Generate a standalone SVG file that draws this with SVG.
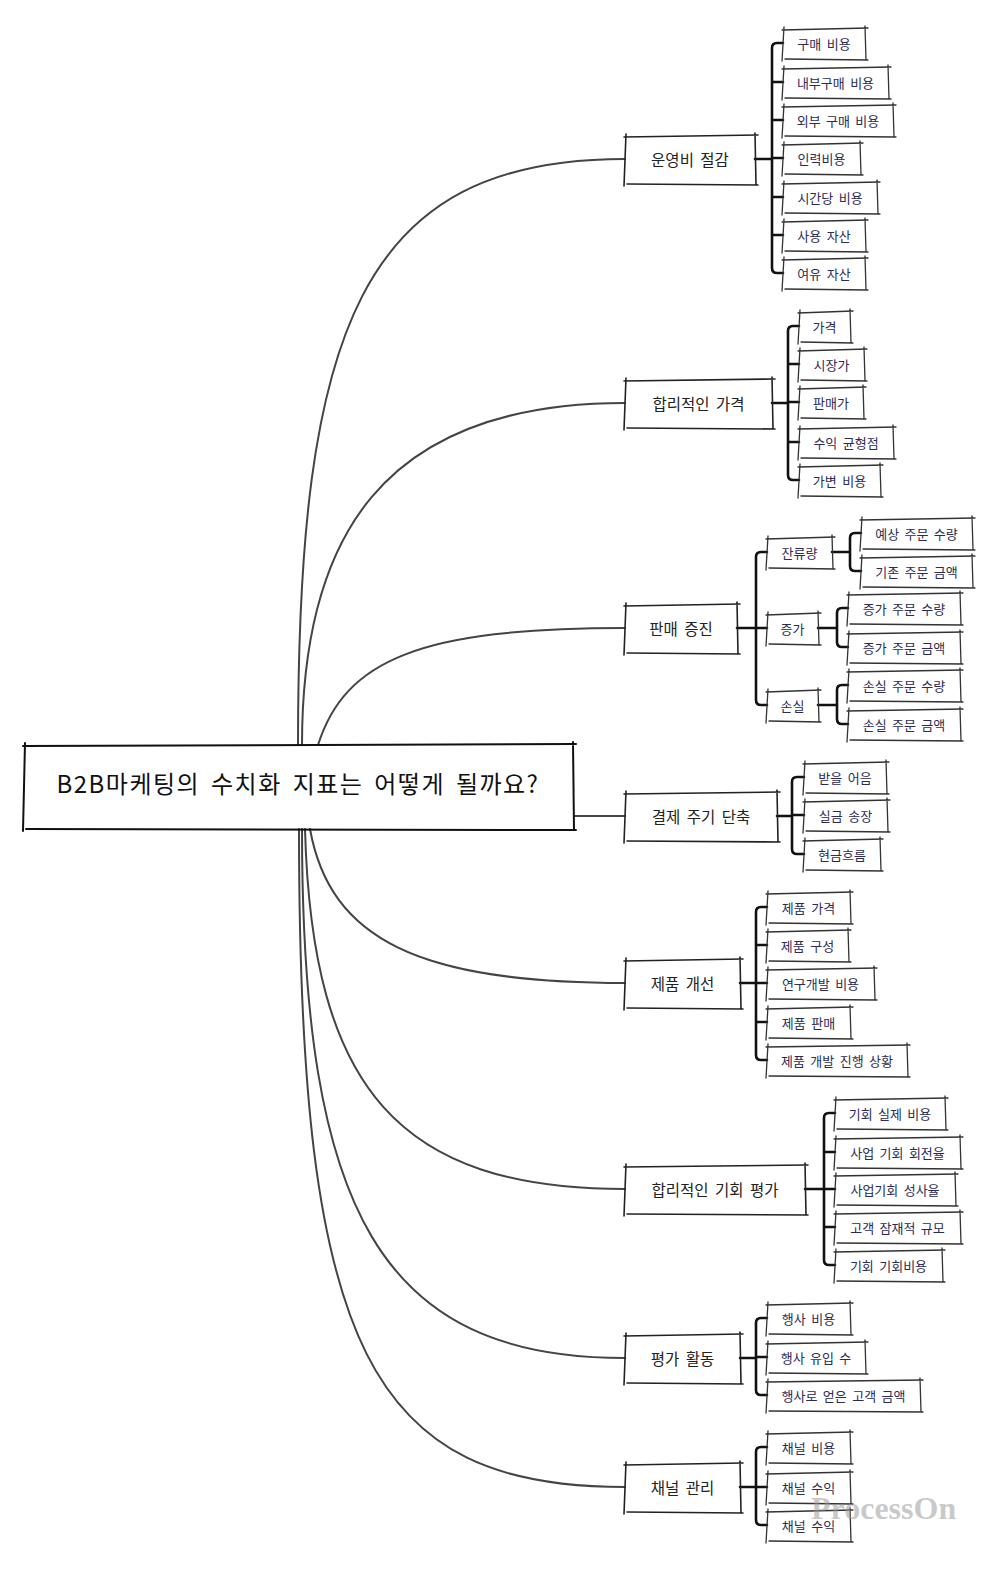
<svg xmlns="http://www.w3.org/2000/svg" width="1000" height="1569" viewBox="0 0 1000 1569">
<style>
.root{fill:none;stroke:#111;stroke-width:2;stroke-linecap:round}
.b1{fill:none;stroke:#222;stroke-width:1.6;stroke-linecap:round}
.b2{fill:none;stroke:#333;stroke-width:1.3;stroke-linecap:round}
.br{fill:none;stroke:#111;stroke-width:2.6;stroke-linecap:round;stroke-linejoin:round}
.cv{fill:none;stroke:#444;stroke-width:2;stroke-linecap:round}
text{font-family:"Noto Sans CJK KR","Noto Sans",sans-serif;text-anchor:middle;dominant-baseline:central}
.t0{font-size:24px;fill:#111;letter-spacing:1.5px;word-spacing:4px}
.t1{font-size:15.5px;fill:#222;word-spacing:3px}
.t2{font-size:13px;fill:#2b2b55;word-spacing:2.5px}
.wm{font-family:"Liberation Serif",serif;font-weight:bold;font-size:32px;fill:#9a9a9a;fill-opacity:0.55;text-anchor:start;dominant-baseline:auto}
</style>
<rect width="1000" height="1569" fill="#fff"/>
<g id="connectors">
<path class="cv" d="M298 745 C298 330 360 159 625 159"/>
<path class="cv" d="M302 745 C302 540 380 403 625 403"/>
<path class="cv" d="M318 745 C345 660 420 628 625 628"/>
<path class="cv" d="M575 816 H625"/>
<path class="cv" d="M310 829 C330 940 420 983 625 983"/>
<path class="cv" d="M305 829 C312 1090 400 1189 625 1189"/>
<path class="cv" d="M302 829 C302 1210 380 1358 625 1358"/>
<path class="cv" d="M299 829 C299 1350 370 1487 625 1487"/>
<path class="br" d="M755 159 H772 M783 43 H777 Q772 43 772 48 V268 Q772 273 777 273 H783 M772 82 H783 M772 120 H783 M772 158 H783 M772 197 H783 M772 235 H783"/>
<path class="br" d="M772 403 H788 M799 326 H793 Q788 326 788 331 V475 Q788 480 793 480 H799 M788 364 H799 M788 402 H799 M788 442 H799"/>
<path class="br" d="M737 628 H756 M767 552 H761 Q756 552 756 557 V700 Q756 705 761 705 H767 M756 628 H767"/>
<path class="br" d="M832 552 H850 M861 533 H855 Q850 533 850 538 V566 Q850 571 855 571 H861"/>
<path class="br" d="M818 628 H837 M848 608 H842 Q837 608 837 613 V642 Q837 647 842 647 H848"/>
<path class="br" d="M818 705 H837 M848 685 H842 Q837 685 837 690 V719 Q837 724 842 724 H848"/>
<path class="br" d="M777 816 H792 M804 777 H797 Q792 777 792 782 V849 Q792 854 797 854 H804 M792 815 H804"/>
<path class="br" d="M740 983 H756 M767 907 H761 Q756 907 756 912 V1055 Q756 1060 761 1060 H767 M756 945 H767 M756 983 H767 M756 1022 H767"/>
<path class="br" d="M805 1189 H824 M835 1113 H829 Q824 1113 824 1118 V1260 Q824 1265 829 1265 H835 M824 1152 H835 M824 1189 H835 M824 1227 H835"/>
<path class="br" d="M740 1358 H756 M767 1318 H761 Q756 1318 756 1323 V1390 Q756 1395 761 1395 H767 M756 1357 H767"/>
<path class="br" d="M740 1487 H756 M767 1447 H761 Q756 1447 756 1452 V1520 Q756 1525 761 1525 H767 M756 1487 H767"/>
</g>
<g id="root"><path class="root" d="M23 746L576 744M25 743L23 831M573 742L574 830M26 829L576 830"/><text class="t0" x="298" y="782">B2B마케팅의 수치화 지표는 어떻게 될까요?</text></g>

<g id="n1"><path class="b1" d="M624 137L758 135M626 134L624 186M755 133L756 185M627 184L758 185"/><text class="t1" x="690" y="159">운영비 절감</text></g>
<g id="n1-1"><path class="b2" d="M782 30L868 28M784 27L782 61M865 26L866 60M785 59L868 60"/><text class="t2" x="824" y="43">구매 비용</text></g>
<g id="n1-2"><path class="b2" d="M782 69L891 67M784 66L782 100M888 65L889 99M785 98L891 99"/><text class="t2" x="835.5" y="82">내부구매 비용</text></g>
<g id="n1-3"><path class="b2" d="M782 107L896 105M784 104L782 138M893 103L894 137M785 136L896 137"/><text class="t2" x="838" y="120">외부 구매 비용</text></g>
<g id="n1-4"><path class="b2" d="M782 145L863 143M784 142L782 176M860 141L861 175M785 174L863 175"/><text class="t2" x="821.5" y="158">인력비용</text></g>
<g id="n1-5"><path class="b2" d="M782 184L880 182M784 181L782 215M877 180L878 214M785 213L880 214"/><text class="t2" x="830" y="197">시간당 비용</text></g>
<g id="n1-6"><path class="b2" d="M782 222L868 220M784 219L782 253M865 218L866 252M785 251L868 252"/><text class="t2" x="824" y="235">사용 자산</text></g>
<g id="n1-7"><path class="b2" d="M782 260L868 258M784 257L782 291M865 256L866 290M785 289L868 290"/><text class="t2" x="824" y="273">여유 자산</text></g>

<g id="n2"><path class="b1" d="M624 381L775 379M626 378L624 430M772 377L773 429M627 428L775 429"/><text class="t1" x="698.5" y="403">합리적인 가격</text></g>
<g id="n2-1"><path class="b2" d="M798 313L853 311M800 310L798 344M850 309L851 343M801 342L853 343"/><text class="t2" x="824.5" y="326">가격</text></g>
<g id="n2-2"><path class="b2" d="M798 351L867 349M800 348L798 382M864 347L865 381M801 380L867 381"/><text class="t2" x="831.5" y="364">시장가</text></g>
<g id="n2-3"><path class="b2" d="M798 389L866 387M800 386L798 420M863 385L864 419M801 418L866 419"/><text class="t2" x="831" y="402">판매가</text></g>
<g id="n2-4"><path class="b2" d="M798 429L896 427M800 426L798 460M893 425L894 459M801 458L896 459"/><text class="t2" x="846" y="442">수익 균형점</text></g>
<g id="n2-5"><path class="b2" d="M798 467L883 465M800 464L798 498M880 463L881 497M801 496L883 497"/><text class="t2" x="839.5" y="480">가변 비용</text></g>

<g id="n3"><path class="b1" d="M624 606L740 604M626 603L624 655M737 602L738 654M627 653L740 654"/><text class="t1" x="681" y="628">판매 증진</text></g>
<g id="n3-1"><path class="b2" d="M766 539L835 537M768 536L766 570M832 535L833 569M769 568L835 569"/><text class="t2" x="799.5" y="552">잔류량</text></g>
<g id="n3-2"><path class="b2" d="M766 615L821 613M768 612L766 646M818 611L819 645M769 644L821 645"/><text class="t2" x="792.5" y="628">증가</text></g>
<g id="n3-3"><path class="b2" d="M766 692L821 690M768 689L766 723M818 688L819 722M769 721L821 722"/><text class="t2" x="792.5" y="705">손실</text></g>
<g id="n3-1-1"><path class="b2" d="M860 520L975 518M862 517L860 551M972 516L973 550M863 549L975 550"/><text class="t2" x="916.5" y="533">예상 주문 수량</text></g>
<g id="n3-1-2"><path class="b2" d="M860 558L975 556M862 555L860 589M972 554L973 588M863 587L975 588"/><text class="t2" x="916.5" y="571">기존 주문 금액</text></g>
<g id="n3-2-1"><path class="b2" d="M847 595L963 593M849 592L847 626M960 591L961 625M850 624L963 625"/><text class="t2" x="904" y="608">증가 주문 수량</text></g>
<g id="n3-2-2"><path class="b2" d="M847 634L963 632M849 631L847 665M960 630L961 664M850 663L963 664"/><text class="t2" x="904" y="647">증가 주문 금액</text></g>
<g id="n3-3-1"><path class="b2" d="M847 672L963 670M849 669L847 703M960 668L961 702M850 701L963 702"/><text class="t2" x="904" y="685">손실 주문 수량</text></g>
<g id="n3-3-2"><path class="b2" d="M847 711L963 709M849 708L847 742M960 707L961 741M850 740L963 741"/><text class="t2" x="904" y="724">손실 주문 금액</text></g>

<g id="n4"><path class="b1" d="M624 794L780 792M626 791L624 843M777 790L778 842M627 841L780 842"/><text class="t1" x="701" y="816">결제 주기 단축</text></g>
<g id="n4-1"><path class="b2" d="M803 764L889 762M805 761L803 795M886 760L887 794M806 793L889 794"/><text class="t2" x="845" y="777">받을 어음</text></g>
<g id="n4-2"><path class="b2" d="M803 802L890 800M805 799L803 833M887 798L888 832M806 831L890 832"/><text class="t2" x="845.5" y="815">실금 송장</text></g>
<g id="n4-3"><path class="b2" d="M803 841L883 839M805 838L803 872M880 837L881 871M806 870L883 871"/><text class="t2" x="842" y="854">현금흐름</text></g>

<g id="n5"><path class="b1" d="M624 961L743 959M626 958L624 1010M740 957L741 1009M627 1008L743 1009"/><text class="t1" x="682.5" y="983">제품 개선</text></g>
<g id="n5-1"><path class="b2" d="M766 894L853 892M768 891L766 925M850 890L851 924M769 923L853 924"/><text class="t2" x="808.5" y="907">제품 가격</text></g>
<g id="n5-2"><path class="b2" d="M766 932L851 930M768 929L766 963M848 928L849 962M769 961L851 962"/><text class="t2" x="807.5" y="945">제품 구성</text></g>
<g id="n5-3"><path class="b2" d="M766 970L877 968M768 967L766 1001M874 966L875 1000M769 999L877 1000"/><text class="t2" x="820.5" y="983">연구개발 비용</text></g>
<g id="n5-4"><path class="b2" d="M766 1009L853 1007M768 1006L766 1040M850 1005L851 1039M769 1038L853 1039"/><text class="t2" x="808.5" y="1022">제품 판매</text></g>
<g id="n5-5"><path class="b2" d="M766 1047L910 1045M768 1044L766 1078M907 1043L908 1077M769 1076L910 1077"/><text class="t2" x="837" y="1060">제품 개발 진행 상황</text></g>

<g id="n6"><path class="b1" d="M624 1167L808 1165M626 1164L624 1216M805 1163L806 1215M627 1214L808 1215"/><text class="t1" x="715" y="1189">합리적인 기회 평가</text></g>
<g id="n6-1"><path class="b2" d="M834 1100L948 1098M836 1097L834 1131M945 1096L946 1130M837 1129L948 1130"/><text class="t2" x="890" y="1113">기회 실제 비용</text></g>
<g id="n6-2"><path class="b2" d="M834 1139L963 1137M836 1136L834 1170M960 1135L961 1169M837 1168L963 1169"/><text class="t2" x="897.5" y="1152">사업 기회 회전율</text></g>
<g id="n6-3"><path class="b2" d="M834 1176L958 1174M836 1173L834 1207M955 1172L956 1206M837 1205L958 1206"/><text class="t2" x="895" y="1189">사업기회 성사율</text></g>
<g id="n6-4"><path class="b2" d="M834 1214L963 1212M836 1211L834 1245M960 1210L961 1244M837 1243L963 1244"/><text class="t2" x="897.5" y="1227">고객 잠재적 규모</text></g>
<g id="n6-5"><path class="b2" d="M834 1252L945 1250M836 1249L834 1283M942 1248L943 1282M837 1281L945 1282"/><text class="t2" x="888.5" y="1265">기회 기회비용</text></g>

<g id="n7"><path class="b1" d="M624 1336L743 1334M626 1333L624 1385M740 1332L741 1384M627 1383L743 1384"/><text class="t1" x="682.5" y="1358">평가 활동</text></g>
<g id="n7-1"><path class="b2" d="M766 1305L853 1303M768 1302L766 1336M850 1301L851 1335M769 1334L853 1335"/><text class="t2" x="808.5" y="1318">행사 비용</text></g>
<g id="n7-2"><path class="b2" d="M766 1344L868 1342M768 1341L766 1375M865 1340L866 1374M769 1373L868 1374"/><text class="t2" x="816" y="1357">행사 유입 수</text></g>
<g id="n7-3"><path class="b2" d="M766 1382L923 1380M768 1379L766 1413M920 1378L921 1412M769 1411L923 1412"/><text class="t2" x="843.5" y="1395">행사로 얻은 고객 금액</text></g>

<g id="n8"><path class="b1" d="M624 1465L743 1463M626 1462L624 1514M740 1461L741 1513M627 1512L743 1513"/><text class="t1" x="682.5" y="1487">채널 관리</text></g>
<g id="n8-1"><path class="b2" d="M766 1434L853 1432M768 1431L766 1465M850 1430L851 1464M769 1463L853 1464"/><text class="t2" x="808.5" y="1447">채널 비용</text></g>
<g id="n8-2"><path class="b2" d="M766 1474L853 1472M768 1471L766 1505M850 1470L851 1504M769 1503L853 1504"/><text class="t2" x="808.5" y="1487">채널 수익</text></g>
<g id="n8-3"><path class="b2" d="M766 1512L853 1510M768 1509L766 1543M850 1508L851 1542M769 1541L853 1542"/><text class="t2" x="808.5" y="1525">채널 수익</text></g>

<text class="wm" x="811" y="1519">ProcessOn</text>
</svg>
